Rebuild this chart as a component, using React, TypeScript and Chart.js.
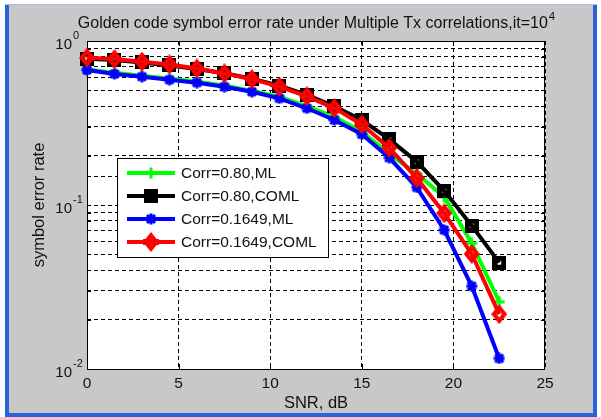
import React, { useEffect, useRef } from 'react';
import { Chart, registerables } from 'chart.js';

Chart.register(...registerables);

// SNR sweep (dB)
const snrDb = [0, 1.5, 3, 4.5, 6, 7.5, 9, 10.5, 12, 13.5, 15, 16.5, 18, 19.5, 21, 22.5];

// Symbol error rate per configuration
const serCorr080ML = [0.67, 0.64, 0.615, 0.59, 0.565, 0.535, 0.495, 0.458, 0.4, 0.345, 0.28, 0.205, 0.155, 0.112, 0.0584, 0.0257];
const serCorr080COML = [0.78, 0.765, 0.74, 0.71, 0.675, 0.635, 0.59, 0.535, 0.47, 0.4, 0.33, 0.251, 0.184, 0.122, 0.0748, 0.0445];
const serCorr1649ML = [0.665, 0.63, 0.606, 0.58, 0.557, 0.526, 0.49, 0.447, 0.389, 0.33, 0.27, 0.194, 0.128, 0.0704, 0.032, 0.0116];
const serCorr1649COML = [0.79, 0.776, 0.748, 0.72, 0.68, 0.635, 0.585, 0.527, 0.46, 0.39, 0.31, 0.223, 0.146, 0.089, 0.0503, 0.0216];

const seriesLabels = ['Corr=0.80,ML', 'Corr=0.80,COML', 'Corr=0.1649,ML', 'Corr=0.1649,COML'];
const seriesColors = ['#00ff00', '#000000', '#0000ff', '#ff0000'];

const xTickStep = 5;
const xMin = 0;
const xMax = 25;
const yMin = 0.01;
const yMax = 1;
const yDecadeValues = [1, 0.1, 0.01];
const yDecadeExponents = ['0', '-1', '-2'];

const titleText = 'Golden code symbol error rate under Multiple Tx correlations,it=10';
const titleExponent = '4';
const xAxisTitle = 'SNR, dB';
const yAxisTitle = 'symbol error rate';

const FONT = '"Liberation Sans", Arial, sans-serif';
const TEXT_COLOR = '#111111';

type MarkerKind = 'plus' | 'square' | 'star' | 'diamond';

function makeMarker(kind: MarkerKind, color: string): HTMLCanvasElement {
  const c = document.createElement('canvas');
  const ctx = c.getContext('2d')!;
  if (kind === 'plus' || kind === 'star') {
    c.width = 12;
    c.height = 12;
    ctx.strokeStyle = color;
    ctx.lineWidth = 3;
    ctx.beginPath();
    ctx.moveTo(6, 0.5);
    ctx.lineTo(6, 11.5);
    ctx.moveTo(0.5, 6);
    ctx.lineTo(11.5, 6);
    if (kind === 'star') {
      ctx.moveTo(2, 2);
      ctx.lineTo(10, 10);
      ctx.moveTo(10, 2);
      ctx.lineTo(2, 10);
    }
    ctx.stroke();
  } else if (kind === 'square') {
    c.width = 14;
    c.height = 14;
    ctx.fillStyle = color;
    ctx.fillRect(0, 0, 14, 14);
    ctx.clearRect(5, 5, 4, 4);
  } else {
    c.width = 16;
    c.height = 20;
    ctx.fillStyle = color;
    ctx.beginPath();
    ctx.moveTo(8, 0);
    ctx.lineTo(16, 10);
    ctx.lineTo(8, 20);
    ctx.lineTo(0, 10);
    ctx.closePath();
    ctx.fill();
    ctx.globalCompositeOperation = 'destination-out';
    ctx.beginPath();
    ctx.moveTo(8, 6.5);
    ctx.lineTo(10.5, 10);
    ctx.lineTo(8, 13.5);
    ctx.lineTo(5.5, 10);
    ctx.closePath();
    ctx.fill();
  }
  return c;
}

function makeLegendMarker(kind: MarkerKind, color: string): HTMLCanvasElement {
  // legend keys show the marker solid, with the line running through it
  const c = makeMarker(kind, color);
  const ctx = c.getContext('2d')!;
  if (kind === 'square' || kind === 'diamond') {
    ctx.globalCompositeOperation = 'source-over';
    ctx.fillStyle = color;
    ctx.fillRect(0, c.height / 2 - 3, c.width, 6);
  }
  return c;
}

const figurePlugin = {
  id: 'figureFrame',
  beforeDraw(chart: any) {
    const { ctx, width, height, chartArea } = chart;
    ctx.save();
    ctx.fillStyle = '#ffffff';
    ctx.fillRect(0, 0, width, height);
    // window frame
    ctx.fillStyle = '#a8c2ec';
    ctx.fillRect(5, 4, 592, 1);
    ctx.fillStyle = '#2a62db';
    ctx.fillRect(5, 5, 4, 412);
    ctx.fillRect(593, 5, 4, 412);
    ctx.fillRect(5, 413, 592, 4);
    // figure background
    ctx.fillStyle = '#c8c8c8';
    ctx.fillRect(9, 5, 584, 408);
    // axes background
    ctx.fillStyle = '#ffffff';
    ctx.fillRect(chartArea.left, chartArea.top, chartArea.right - chartArea.left, chartArea.bottom - chartArea.top);
    ctx.restore();
  },
  beforeDatasetsDraw(chart: any) {
    const { ctx, chartArea, scales } = chart;
    const { left, right, top, bottom } = chartArea;
    ctx.save();
    ctx.strokeStyle = '#000000';
    ctx.lineWidth = 1;
    // inward tick marks
    ctx.beginPath();
    for (let v = xMin + xTickStep; v < xMax; v += xTickStep) {
      const px = Math.round(scales.x.getPixelForValue(v)) + 0.5;
      ctx.moveTo(px, bottom);
      ctx.lineTo(px, bottom - 5);
      ctx.moveTo(px, top);
      ctx.lineTo(px, top + 5);
    }
    scales.y.ticks.forEach((t: any) => {
      const py = Math.round(scales.y.getPixelForValue(t.value)) + 0.5;
      ctx.moveTo(left, py);
      ctx.lineTo(left + 4, py);
      ctx.moveTo(right, py);
      ctx.lineTo(right - 4, py);
    });
    ctx.stroke();
    // axes box
    ctx.strokeRect(Math.round(left) + 0.5, Math.round(top) + 0.5, Math.round(right - left) - 1, Math.round(bottom - top));
    ctx.restore();
  },
  afterDatasetsDraw(chart: any) {
    const { ctx } = chart;
    const meta = chart.data.datasets;
    ctx.save();
    // legend box
    const bx = 117;
    const by = 158;
    const bw = 211;
    const bh = 99;
    ctx.fillStyle = '#ffffff';
    ctx.fillRect(bx, by, bw, bh);
    ctx.strokeStyle = '#000000';
    ctx.lineWidth = 1;
    ctx.strokeRect(bx + 0.5, by + 0.5, bw, bh);
    const rowY = [173, 196, 219, 242];
    ctx.font = `15.5px ${FONT}`;
    ctx.textBaseline = 'middle';
    ctx.textAlign = 'left';
    meta.forEach((ds: any, i: number) => {
      const y = rowY[i];
      ctx.strokeStyle = ds.borderColor;
      ctx.lineWidth = 4;
      ctx.beginPath();
      ctx.moveTo(127, y);
      ctx.lineTo(175, y);
      ctx.stroke();
      const m: HTMLCanvasElement = ds.legendMarker;
      ctx.drawImage(m, Math.round(151 - m.width / 2), Math.round(y - m.height / 2));
      ctx.fillStyle = TEXT_COLOR;
      ctx.fillText(ds.label, 181, y + 1);
    });
    ctx.restore();
  },
  afterDraw(chart: any) {
    const { ctx, scales, chartArea } = chart;
    ctx.save();
    ctx.fillStyle = TEXT_COLOR;
    // title with superscript
    ctx.font = `16px ${FONT}`;
    const mainW = ctx.measureText(titleText).width;
    ctx.font = `11.5px ${FONT}`;
    const expW = ctx.measureText(titleExponent).width;
    const cx = (chartArea.left + chartArea.right) / 2;
    const startX = cx - (mainW + expW) / 2;
    ctx.textBaseline = 'alphabetic';
    ctx.textAlign = 'left';
    ctx.font = `16px ${FONT}`;
    ctx.fillText(titleText, startX, 28);
    ctx.font = `11.5px ${FONT}`;
    ctx.fillText(titleExponent, startX + mainW + 1, 20);
    // y decade labels 10^k
    ctx.textBaseline = 'middle';
    yDecadeValues.forEach((v, i) => {
      const py = scales.y.getPixelForValue(v);
      ctx.font = `15px ${FONT}`;
      ctx.textAlign = 'right';
      ctx.fillText('10', 72, py + 4);
      ctx.font = `11px ${FONT}`;
      ctx.textAlign = 'left';
      ctx.fillText(yDecadeExponents[i], 73, py - 5);
    });
    ctx.restore();
  },
};

const seriesValues = [serCorr080ML, serCorr080COML, serCorr1649ML, serCorr1649COML];
const markerKinds: MarkerKind[] = ['plus', 'square', 'star', 'diamond'];
// later entries are drawn on top
const drawOrder = [4, 3, 2, 1];

export default function App() {
  const ref = useRef<HTMLCanvasElement>(null);

  useEffect(() => {
    document.body.style.margin = '0';
    const canvas = ref.current;
    if (!canvas) return;

    const datasets = seriesValues.map((vals, i) => ({
      label: seriesLabels[i],
      data: snrDb.map((x, j) => ({ x, y: vals[j] })),
      borderColor: seriesColors[i],
      backgroundColor: seriesColors[i],
      borderWidth: 4,
      pointStyle: makeMarker(markerKinds[i], seriesColors[i]),
      legendMarker: makeLegendMarker(markerKinds[i], seriesColors[i]),
      pointRadius: 6,
      pointHoverRadius: 6,
      tension: 0,
      fill: false,
      clip: false,
      order: drawOrder[i],
    }));

    const chart = new Chart(canvas, {
      type: 'line',
      data: { datasets } as any,
      plugins: [figurePlugin],
      options: {
        responsive: false,
        animation: false,
        events: [],
        layout: { padding: { left: 0, right: 56, top: 41, bottom: 0 } },
        plugins: {
          legend: { display: false },
          title: { display: false },
          tooltip: { enabled: false },
        },
        scales: {
          x: {
            type: 'linear',
            min: xMin,
            max: xMax,
            afterFit: (s: any) => {
              s.height = 48;
            },
            ticks: {
              stepSize: xTickStep,
              color: TEXT_COLOR,
              font: { family: FONT, size: 15.5 },
              padding: 5,
              maxRotation: 0,
            },
            grid: {
              color: '#000000',
              lineWidth: 1,
              drawTicks: false,
              borderDash: [4, 3],
            } as any,
            border: { display: false, dash: [4, 3] },
            title: {
              display: true,
              text: xAxisTitle,
              color: TEXT_COLOR,
              font: { family: FONT, size: 16.5 },
              padding: { top: 0, bottom: 4 },
            },
          },
          y: {
            type: 'logarithmic',
            min: yMin,
            max: yMax,
            afterFit: (s: any) => {
              s.width = 87;
            },
            ticks: {
              display: false,
              autoSkip: false,
            },
            grid: {
              color: '#000000',
              lineWidth: 1,
              drawTicks: false,
              borderDash: [4, 3],
            } as any,
            border: { display: false, dash: [4, 3] },
            title: {
              display: true,
              text: yAxisTitle,
              color: TEXT_COLOR,
              font: { family: FONT, size: 16.5 },
              padding: { top: 30, bottom: 0 },
            },
          },
        },
      } as any,
    });

    return () => chart.destroy();
  }, []);

  return (
    <canvas
      ref={ref}
      width={601}
      height={417}
      style={{ display: 'block', width: 601, height: 417 }}
    />
  );
}
